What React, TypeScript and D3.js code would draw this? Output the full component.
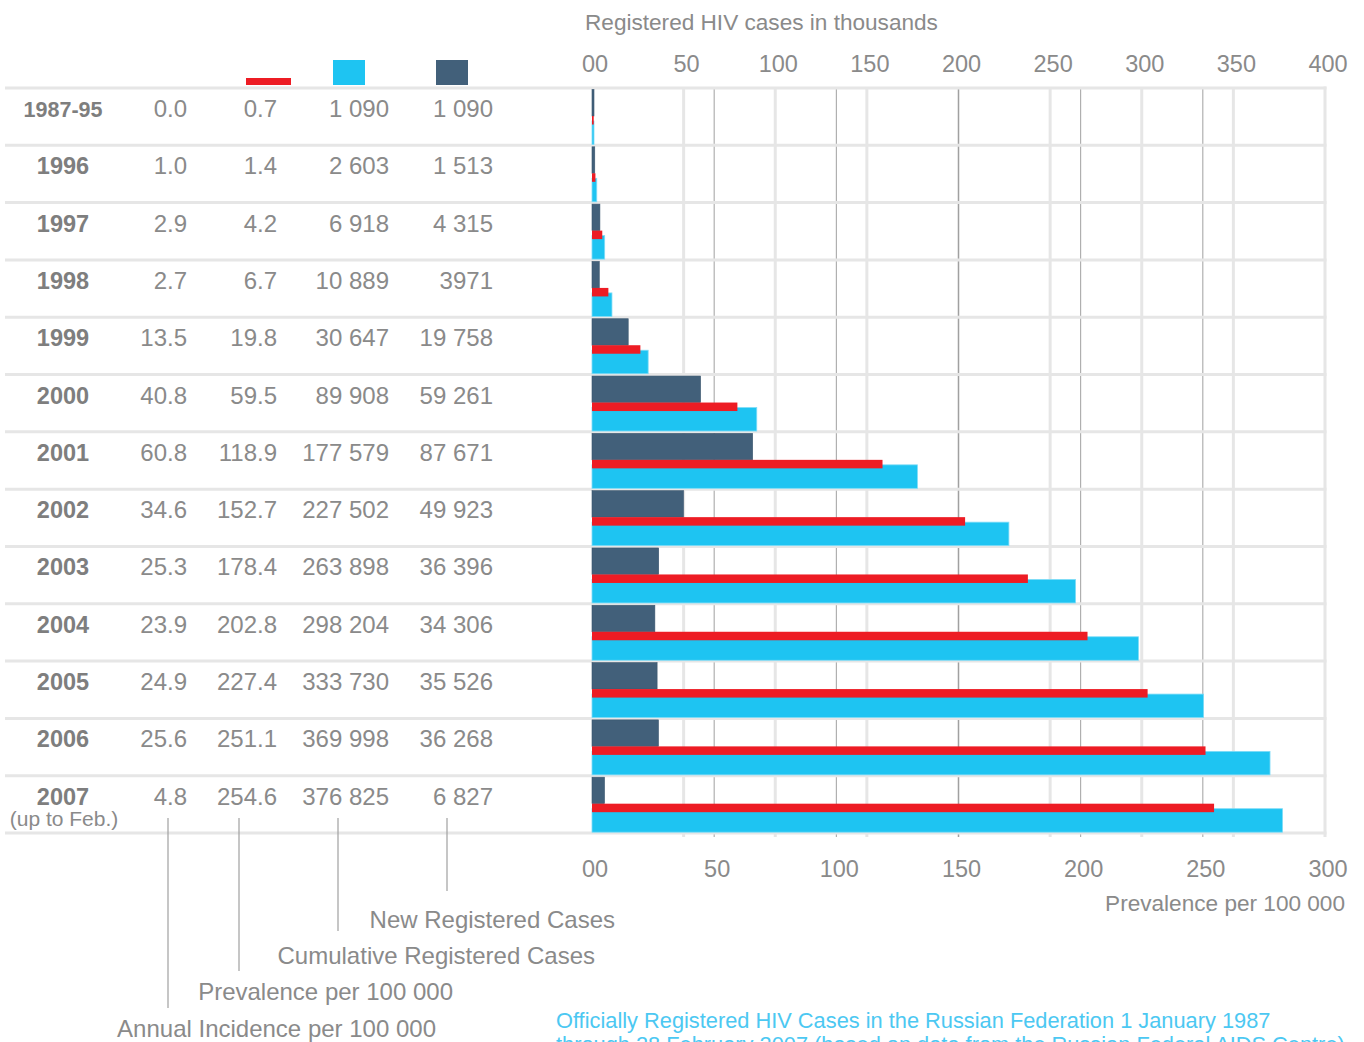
import React from "react";
import * as d3 from "d3";

const years = ["1987-95", "1996", "1997", "1998", "1999", "2000", "2001", "2002", "2003", "2004", "2005", "2006", "2007"];
const incidence = [0.0, 1.0, 2.9, 2.7, 13.5, 40.8, 60.8, 34.6, 25.3, 23.9, 24.9, 25.6, 4.8];
const prevalence = [0.7, 1.4, 4.2, 6.7, 19.8, 59.5, 118.9, 152.7, 178.4, 202.8, 227.4, 251.1, 254.6];
const cumulative = [1090, 2603, 6918, 10889, 30647, 89908, 177579, 227502, 263898, 298204, 333730, 369998, 376825];
const newCases = [1090, 1513, 4315, 3971, 19758, 59261, 87671, 49923, 36396, 34306, 35526, 36268, 6827];
const cumulativeLabels = ["1 090", "2 603", "6 918", "10 889", "30 647", "89 908", "177 579", "227 502", "263 898", "298 204", "333 730", "369 998", "376 825"];
const newLabels = ["1 090", "1 513", "4 315", "3971", "19 758", "59 261", "87 671", "49 923", "36 396", "34 306", "35 526", "36 268", "6 827"];
const topTicks = [0, 50, 100, 150, 200, 250, 300, 350, 400];
const bottomTicks = [0, 50, 100, 150, 200, 250, 300];

const FONT = "'Liberation Sans', Arial, Helvetica, sans-serif";
const GRAY = "#8a8a8a";
const DARK = "#42607a";
const RED = "#ed1c24";
const CYAN = "#1ec4f2";
const LIGHT = "#e6e6e6";

export default function App() {
  const x0 = 592;
  const x1 = 1325;
  const xTop = d3.scaleLinear().domain([0, 400]).range([x0, x1]);
  const xBot = d3.scaleLinear().domain([0, 300]).range([x0, x1]);
  const y = d3.scaleBand<string>().domain(years).range([88, 833]).paddingInner(0);
  const bw = y.bandwidth();

  return (
    <svg width={1364} height={1042} style={{ position: "absolute", left: 0, top: 0, display: "block" }} fontFamily={FONT}>
      <rect x={0} y={0} width={1364} height={1042} fill="#fff" />
      {/* title */}
      <text x={585} y={30} fontSize={22.6} fill={GRAY}>Registered HIV cases in thousands</text>
      {/* top ticks */}
      {topTicks.map((t) => (
        <text key={"tt" + t} x={xTop(t) + 3} y={72} fontSize={23.5} fill={GRAY} textAnchor="middle">{t === 0 ? "00" : t}</text>
      ))}
      {/* legend */}
      <rect x={246} y={78} width={45} height={7} fill={RED} />
      <rect x={333} y={60} width={32} height={25} fill={CYAN} />
      <rect x={436} y={60} width={32} height={25} fill={DARK} />

      {/* light gridlines (top axis) */}
      {topTicks.filter((t) => t > 0 && t < 400).map((t) => (
        <line key={"gl" + t} x1={xTop(t)} x2={xTop(t)} y1={88} y2={837} stroke={LIGHT} strokeWidth={3} />
      ))}
      {/* dark gridlines (bottom axis) */}
      {bottomTicks.filter((t) => t > 0 && t < 300).map((t) => (
        <line key={"gd" + t} x1={xBot(t)} x2={xBot(t)} y1={88} y2={837} stroke="#a0a0a0" strokeWidth={1} />
      ))}
      <line x1={x1} x2={x1} y1={86.5} y2={837} stroke={LIGHT} strokeWidth={3} />
      {/* horizontal row lines */}
      {d3.range(years.length + 1).map((i) => (
        <line key={"h" + i} x1={5} x2={x1 + 1.5} y1={88 + i * bw} y2={88 + i * bw} stroke={LIGHT} strokeWidth={3} />
      ))}

      {/* bars */}
      {years.map((yr, i) => {
        const top = y(yr)!;
        return (
          <g key={"b" + yr}>
            <rect x={x0} y={top + 1.5} width={Math.max(xTop(newCases[i] / 1000) - x0, 1)} height={26.5} fill={DARK} stroke="#3a566e" strokeWidth={0.6} />
            <rect x={x0} y={top + 33} width={xTop(cumulative[i] / 1000) - x0} height={23.5} fill={CYAN} stroke="#7fdcf7" strokeWidth={0.8} />
            <rect x={x0} y={top + 28} width={xBot(prevalence[i]) - x0} height={8.5} fill={RED} />
          </g>
        );
      })}

      {/* table text */}
      {years.map((yr, i) => {
        const top = y(yr)!;
        const base = top + 29;
        return (
          <g key={"t" + yr} fontSize={24} fill={GRAY}>
            <text x={63} y={base} textAnchor="middle" fontWeight="bold" fontSize={yr.length > 4 ? 21.5 : 23.5} fill="#7e7e7e">{yr}</text>
            <text x={187} y={base} textAnchor="end">{incidence[i].toFixed(1)}</text>
            <text x={277} y={base} textAnchor="end">{prevalence[i].toFixed(1)}</text>
            <text x={389} y={base} textAnchor="end">{cumulativeLabels[i]}</text>
            <text x={493} y={base} textAnchor="end">{newLabels[i]}</text>
          </g>
        );
      })}
      <text x={64} y={826} textAnchor="middle" fontSize={21} fill={GRAY}>(up to Feb.)</text>

      {/* bottom ticks */}
      {bottomTicks.map((t) => (
        <text key={"bt" + t} x={xBot(t) + 3} y={877} fontSize={23.5} fill={GRAY} textAnchor="middle">{t === 0 ? "00" : t}</text>
      ))}
      <text x={1345} y={911} fontSize={22.6} fill={GRAY} textAnchor="end">Prevalence per 100 000</text>

      {/* annotation leaders */}
      <line x1={168} x2={168} y1={818} y2={1008} stroke="#a0a0a0" strokeWidth={1.2} />
      <line x1={239} x2={239} y1={818} y2={971} stroke="#a0a0a0" strokeWidth={1.2} />
      <line x1={338} x2={338} y1={818} y2={931} stroke="#a0a0a0" strokeWidth={1.2} />
      <line x1={447} x2={447} y1={818} y2={891} stroke="#a0a0a0" strokeWidth={1.2} />
      <text x={615} y={928} fontSize={24} fill={GRAY} textAnchor="end">New Registered Cases</text>
      <text x={595} y={964} fontSize={24} fill={GRAY} textAnchor="end">Cumulative Registered Cases</text>
      <text x={453} y={1000} fontSize={24} fill={GRAY} textAnchor="end">Prevalence per 100 000</text>
      <text x={436} y={1037} fontSize={24} fill={GRAY} textAnchor="end">Annual Incidence per 100 000</text>

      {/* footer */}
      <text x={556} y={1028} fontSize={21.8} fill="#4cc8f2">Officially Registered HIV Cases in the Russian Federation 1 January 1987</text>
      <text x={556} y={1052} fontSize={21.8} fill="#4cc8f2">through 28 February 2007 (based on data from the Russian Federal AIDS Centre)</text>
    </svg>
  );
}
